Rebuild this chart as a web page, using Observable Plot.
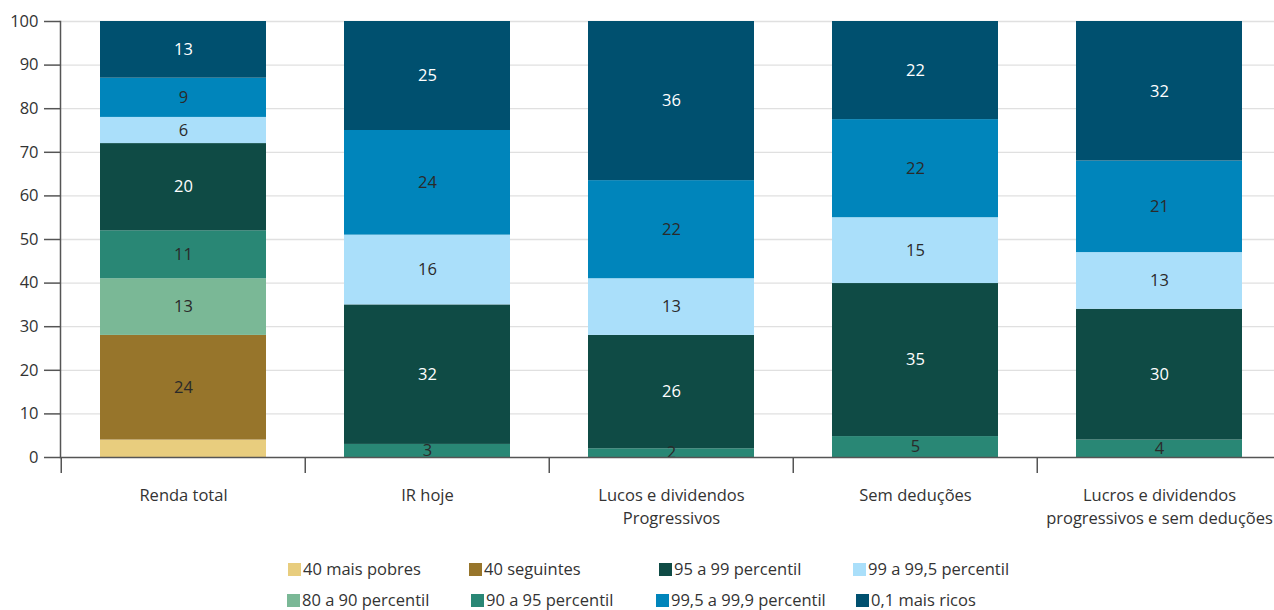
<!DOCTYPE html>
<html>
<head>
<meta charset="utf-8">
<script src="https://cdn.jsdelivr.net/npm/d3@7"></script>
<script src="https://cdn.jsdelivr.net/npm/@observablehq/plot@0.6"></script>
<style>
  body { margin: 0; background: #fff; font-family: "Open Sans", sans-serif; }
  #chart svg { display: block; }
  #legend { position: relative; width: 1274px; height: 65px; font-size: 16.5px; color: #333; }
  .item { position: absolute; display: flex; align-items: center; white-space: nowrap; line-height: 20px; }
  .sw { width: 13px; height: 13px; margin-right: 2px; flex: none; }
</style>
</head>
<body>
<div id="chart"></div>
<div id="legend"></div>
<script>
// ---- data ----
const categories = [
  "Renda total",
  "IR hoje",
  "Lucos e dividendos\nProgressivos",
  "Sem deduções",
  "Lucros e dividendos\nprogressivos e sem deduções"
];
const seriesNames = [
  "40 mais pobres", "40 seguintes", "80 a 90 percentil", "90 a 95 percentil",
  "95 a 99 percentil", "99 a 99,5 percentil", "99,5 a 99,9 percentil", "0,1 mais ricos"
];
const colors = ["#e8cd7e", "#97752b", "#7ab896", "#298775", "#0f4b45", "#aadffa", "#0085bb", "#00506f"];
// values per series, one per category
const v40pobres   = [4, 0, 0, 0, 0];
const v40seguintes= [24, 0, 0, 0, 0];
const v80a90      = [13, 0, 0, 0, 0];
const v90a95      = [11, 3, 2, 4.8, 4];
const v95a99      = [20, 32, 26, 35.1, 30];
const v99a995     = [6, 16, 13, 15.1, 13];
const v995a999    = [9, 24, 22.5, 22.5, 21];
const v01ricos    = [13, 25, 36.5, 22.5, 32];
// labels printed on the segments
const l40pobres   = [null, null, null, null, null];
const l40seguintes= ["24", null, null, null, null];
const l80a90      = ["13", null, null, null, null];
const l90a95      = ["11", "3", "2", "5", "4"];
const l95a99      = ["20", "32", "26", "35", "30"];
const l99a995     = ["6", "16", "13", "15", "13"];
const l995a999    = ["9", "24", "22", "22", "21"];
const l01ricos    = ["13", "25", "36", "22", "32"];
const yTicks = [0, 10, 20, 30, 40, 50, 60, 70, 80, 90, 100];
const whiteLabelSeries = ["95 a 99 percentil", "0,1 mais ricos"];

const valueArrays = [v40pobres, v40seguintes, v80a90, v90a95, v95a99, v99a995, v995a999, v01ricos];
const labelArrays = [l40pobres, l40seguintes, l80a90, l90a95, l95a99, l99a995, l995a999, l01ricos];

const data = [];
seriesNames.forEach((s, si) => {
  categories.forEach((c, ci) => {
    data.push({cat: c, series: s, value: valueArrays[si][ci], label: labelArrays[si][ci]});
  });
});

// ---- layout ----
const W = 1274, H = 545;
const xRange = [60, 1282.5];
const step = (xRange[1] - xRange[0]) / categories.length;

const chart = Plot.plot({
  width: W,
  height: H,
  marginTop: 21,
  marginBottom: 88,
  marginLeft: 60,
  marginRight: 0,
  style: {fontFamily: "'Open Sans', sans-serif", fontSize: "16.5px", color: "#333", overflow: "visible"},
  x: {domain: categories, range: xRange, paddingInner: 0.32, paddingOuter: 0.16, label: null},
  y: {domain: [0, 100], label: null},
  color: {domain: seriesNames, range: colors},
  marks: [
    Plot.ruleY(yTicks.filter(d => d > 0), {stroke: "#e0e0e0", strokeWidth: 1.3}),
    Plot.barY(data, {x: "cat", y: "value", fill: "series"}),
    Plot.text(data, Plot.stackY({
      x: "cat", y: "value", z: "series",
      text: "label",
      fill: d => whiteLabelSeries.includes(d.series) ? "#ffffff" : "#2a2a2a",
      fontSize: 16.5
    })),
    Plot.axisY({ticks: yTicks, tickSize: 16, tickPadding: 6, stroke: "#555", strokeWidth: 1.5, fill: "#333", fontSize: 16.5}),
    Plot.axisX({tickSize: 0, tickPadding: 28, lineHeight: 1.36, fill: "#333", fontSize: 16.5}),
    Plot.ruleX(categories, {x: d => d, dx: -step / 2, y1: 0, y2: 0, insetBottom: -16, stroke: "#555", strokeWidth: 1.5}),
    Plot.frame({anchor: "left", stroke: "#555", strokeWidth: 1.5}),
    Plot.ruleY([0], {stroke: "#555", strokeWidth: 1.5})
  ]
});
document.getElementById("chart").appendChild(chart);

// ---- legend ----
const legend = document.getElementById("legend");
const colLeft = [288, 469, 659, 853];
const colLeft2 = [287, 471, 656, 856];
const rowTop = [14, 45];
const legendOrder = [
  [0, 1, 4, 5],
  [2, 3, 6, 7]
];
legendOrder.forEach((row, ri) => {
  row.forEach((si, ci) => {
    const item = document.createElement("div");
    item.className = "item";
    item.style.left = (ri === 0 ? colLeft[ci] : colLeft2[ci]) + "px";
    item.style.top = rowTop[ri] + "px";
    const sw = document.createElement("span");
    sw.className = "sw";
    sw.style.background = colors[si];
    const t = document.createElement("span");
    t.textContent = seriesNames[si];
    item.appendChild(sw);
    item.appendChild(t);
    legend.appendChild(item);
  });
});
</script>
</body>
</html>
